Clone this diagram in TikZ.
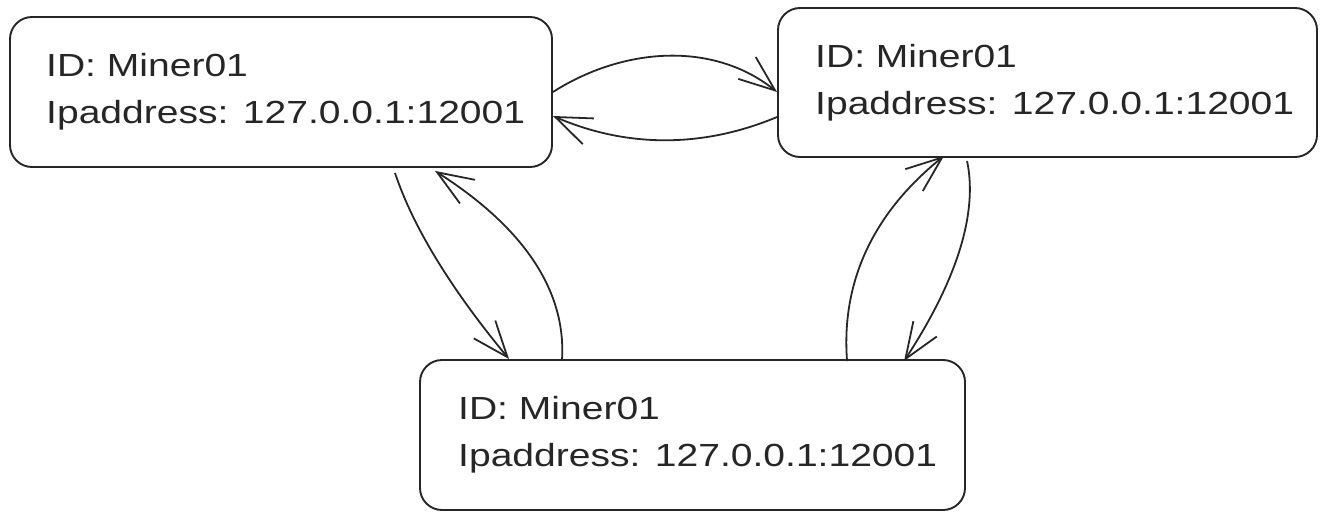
\documentclass[tikz,border=0pt]{standalone}
\usepackage{fontspec}
\setmainfont[FakeStretch=1.22]{Liberation Sans}
\usetikzlibrary{arrows.meta}
\begin{document}
\begin{tikzpicture}[x=1pt,y=-1pt,
  minerbox/.style={draw=black!85, line width=1.9pt, rounded corners=22pt, minimum width=#1, minimum height=150pt, inner sep=0pt},
  txt/.style={anchor=base west, inner sep=0pt, font=\fontsize{32}{38}\selectfont, text=black!85},
  link/.style={draw=black!85, line width=1.8pt, -{Straight Barb[length=36pt,width=28pt,line width=1.8pt]}}]
\useasboundingbox (0,0) rectangle (1327,527);
\node[minerbox=542pt] (A) at (281,92) {};
\node[minerbox=539pt, minimum height=149pt] (B) at (1047.5,82.5) {};
\node[minerbox=545pt] (C) at (692.5,435) {};
\node[txt] (A1) at (46,76) {ID: Miner01};
\node[txt] (A2) at (46,123) {Ipaddress: 127.0.0.1:12001};
\node[txt] (B1) at (815,67) {ID: Miner01};
\node[txt] (B2) at (815,114) {Ipaddress: 127.0.0.1:12001};
\node[txt] (C1) at (458,419) {ID: Miner01};
\node[txt] (C2) at (458,466) {Ipaddress: 127.0.0.1:12001};
% A <-> B
\draw[link] (A.east) .. controls (622,48) and (712,40) .. ([yshift=-9.5pt]B.west);
\draw[link] ([yshift=-34.5pt]B.west) .. controls (703,148) and (627,148) .. ([yshift=-24pt]A.east);
% A <-> C
\draw[link] ([xshift=114pt,yshift=-5pt]A.south) .. controls (413,227) and (451,289) .. ([xshift=90pt]C.north west);
\draw[link] ([xshift=143pt]C.north west) .. controls (566,290) and (523,227) .. ([xshift=154pt,yshift=-3pt]A.south);
% B <-> C
\draw[link] ([xshift=428pt,yshift=-2pt]C.north west) .. controls (841,282) and (873,213) .. ([xshift=167pt,yshift=2pt]B.south west);
\draw[link] ([xshift=190pt,yshift=-3pt]B.south west) .. controls (978,213) and (957,280) .. ([xshift=485pt,yshift=-2pt]C.north west);
\end{tikzpicture}
\end{document}
